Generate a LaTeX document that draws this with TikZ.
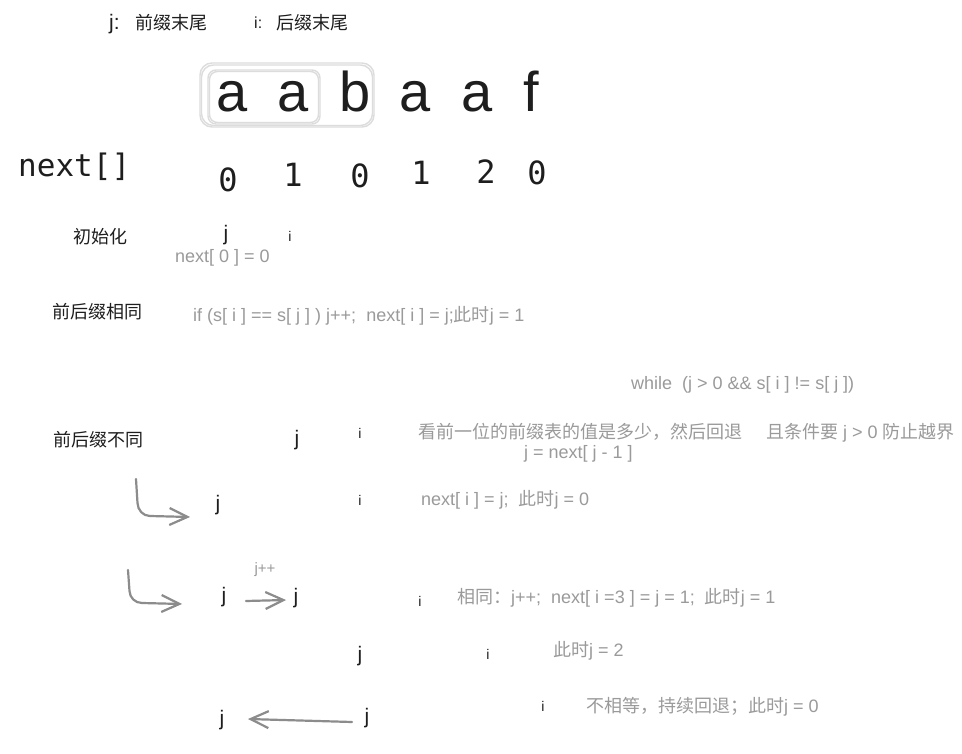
\documentclass[tikz,border=0pt]{standalone}
\usepackage{fontspec}
\setmainfont{Liberation Sans}
\newfontfamily\cjk{Noto Sans CJK SC}
\newfontfamily\monof{DejaVu Sans Mono}
\usetikzlibrary{arrows.meta}
\definecolor{ink}{HTML}{1E1E1E}
\definecolor{soft}{HTML}{9A9A9A}
\definecolor{arrowc}{HTML}{8C8C8C}
\definecolor{boxc}{HTML}{DCDCDC}
\newcommand{\zh}[1]{{\cjk #1}}
\tikzset{
  lbl/.style={anchor=west, inner sep=0pt, font=\fontsize{18}{20}\selectfont\cjk, text=ink},
  note/.style={anchor=west, inner sep=0pt, font=\fontsize{18}{20}\selectfont, text=soft},
  jmark/.style={inner sep=0pt, font=\fontsize{21}{21}\selectfont, text=ink},
  imark/.style={inner sep=0pt, font=\fontsize{14}{14}\selectfont, text=ink},
  bigch/.style={anchor=base, inner sep=0pt, font=\fontsize{56}{56}\selectfont, text=ink},
  digit/.style={anchor=base, inner sep=0pt, font=\fontsize{32}{32}\selectfont\monof, text=ink},
  sk/.style={draw=arrowc, line width=2.2pt, line cap=round, line join=round,
    -{Straight Barb[length=18pt,width=17pt,line width=2.2pt]}},
  boxline/.style={draw=boxc, line width=1.4pt},
}
\begin{document}
\begin{tikzpicture}[x=1pt,y=-1pt]
\useasboundingbox[fill=white] (0,0) rectangle (962,754);

% legend
\node[jmark, anchor=west] (lj) at (109,24) {j:};
\node[lbl] (ljt) at (135,23) {前缀末尾};
\node[imark, anchor=west, font=\fontsize{16}{16}\selectfont] (li) at (254,23) {i:};
\node[lbl] (lit) at (276,23) {后缀末尾};

% boxes
\draw[boxline, rounded corners=12pt] (200,63) rectangle (374,127);
\draw[boxline, rounded corners=12pt] (201.5,65) rectangle (372.5,125.5);
\draw[boxline, rounded corners=8pt] (208,70) rectangle (320,124);
\draw[boxline, rounded corners=8pt] (209.5,71.5) rectangle (318.5,122.5);

% string
\node[bigch] (c1) at (232,112) {a};
\node[bigch] (c2) at (293,112) {a};
\node[bigch] (c3) at (355,112) {b};
\node[bigch] (c4) at (415,112) {a};
\node[bigch] (c5) at (477,112) {a};
\node[bigch] (c6) at (531,112) {f};

% next array
\node[anchor=base west, inner sep=0pt, font=\fontsize{31}{31}\selectfont\monof, text=ink] (nx) at (18,177) {next[]};
\node[digit] (d1) at (228,192) {0};
\node[digit] (d2) at (293,187) {1};
\node[digit] (d3) at (360,188) {0};
\node[digit] (d4) at (421,185) {1};
\node[digit] (d5) at (486,184) {2};
\node[digit] (d6) at (537,185) {0};

% init
\node[lbl] (init) at (73,237) {初始化};
\node[jmark] (j1) at (226,235) {j};
\node[imark] (i1) at (290,236) {i};
\node[note] (n1) at (175,258) {next[ 0 ] = 0};

% same
\node[lbl] (same) at (52,312) {前后缀相同};
\node[note] (n2) at (193,316) {if (s[ i ] == s[ j ] ) j++;\ \ next[ i ] = j;\zh{此时}j = 1};

\node[note] (n3) at (631,385) {while\ \ (j > 0 \&\& s[ i ] != s[ j ])};

% different
\node[lbl] (diff) at (53,440) {前后缀不同};
\node[jmark] (j2) at (297,440) {j};
\node[imark] (i2) at (360,433) {i};
\node[note] (n4) at (418,433) {\zh{看前一位的前缀表的值是多少，然后回退}\hspace{24pt}\zh{且条件要} j > 0 \zh{防止越界}};
\node[note] (n5) at (524,454) {j = next[ j - 1 ]};

\coordinate (a1s) at (136,479);
\coordinate (a1e) at (190,517);
\draw[sk] (a1s) -- (137.5,503) to[out=-88,in=180] (150,516) -- (a1e);
\node[jmark] (j3) at (218,505) {j};
\node[imark] (i3) at (360,500) {i};
\node[note] (n6) at (421,500) {next[ i ] = j;\ \ \zh{此时}j = 0};

\node[note, anchor=center, font=\fontsize{15}{15}\selectfont] (jpp) at (265,570) {j++};
\coordinate (a2s) at (128,570);
\coordinate (a2e) at (182,604);
\draw[sk] (a2s) -- (129.5,591) to[out=-88,in=180] (142,603) -- (a2e);
\node[jmark] (j4) at (224,597) {j};
\node[jmark] (j5) at (296,598) {j};
\coordinate (a3s) at (246,601);
\coordinate (a3e) at (286,600);
\draw[sk] (a3s) -- (a3e);
\node[imark] (i4) at (420,601) {i};
\node[note] (n7) at (457,598) {\zh{相同：}j++;\ \ next[ i =3 ] = j = 1;\ \ \zh{此时}j = 1};

\node[jmark] (j6) at (360,656) {j};
\node[imark] (i5) at (488,654) {i};
\node[note] (n8) at (553,651) {\zh{此时}j = 2};

\node[jmark] (j7) at (222,720) {j};
\node[jmark] (j8) at (367,718) {j};
\coordinate (a4s) at (352,722);
\coordinate (a4e) at (248,719);
\draw[sk] (a4s) -- (a4e);
\node[imark] (i6) at (543,706) {i};
\node[note] (n9) at (586,707) {\zh{不相等，持续回退；此时}j = 0};
\end{tikzpicture}
\end{document}
